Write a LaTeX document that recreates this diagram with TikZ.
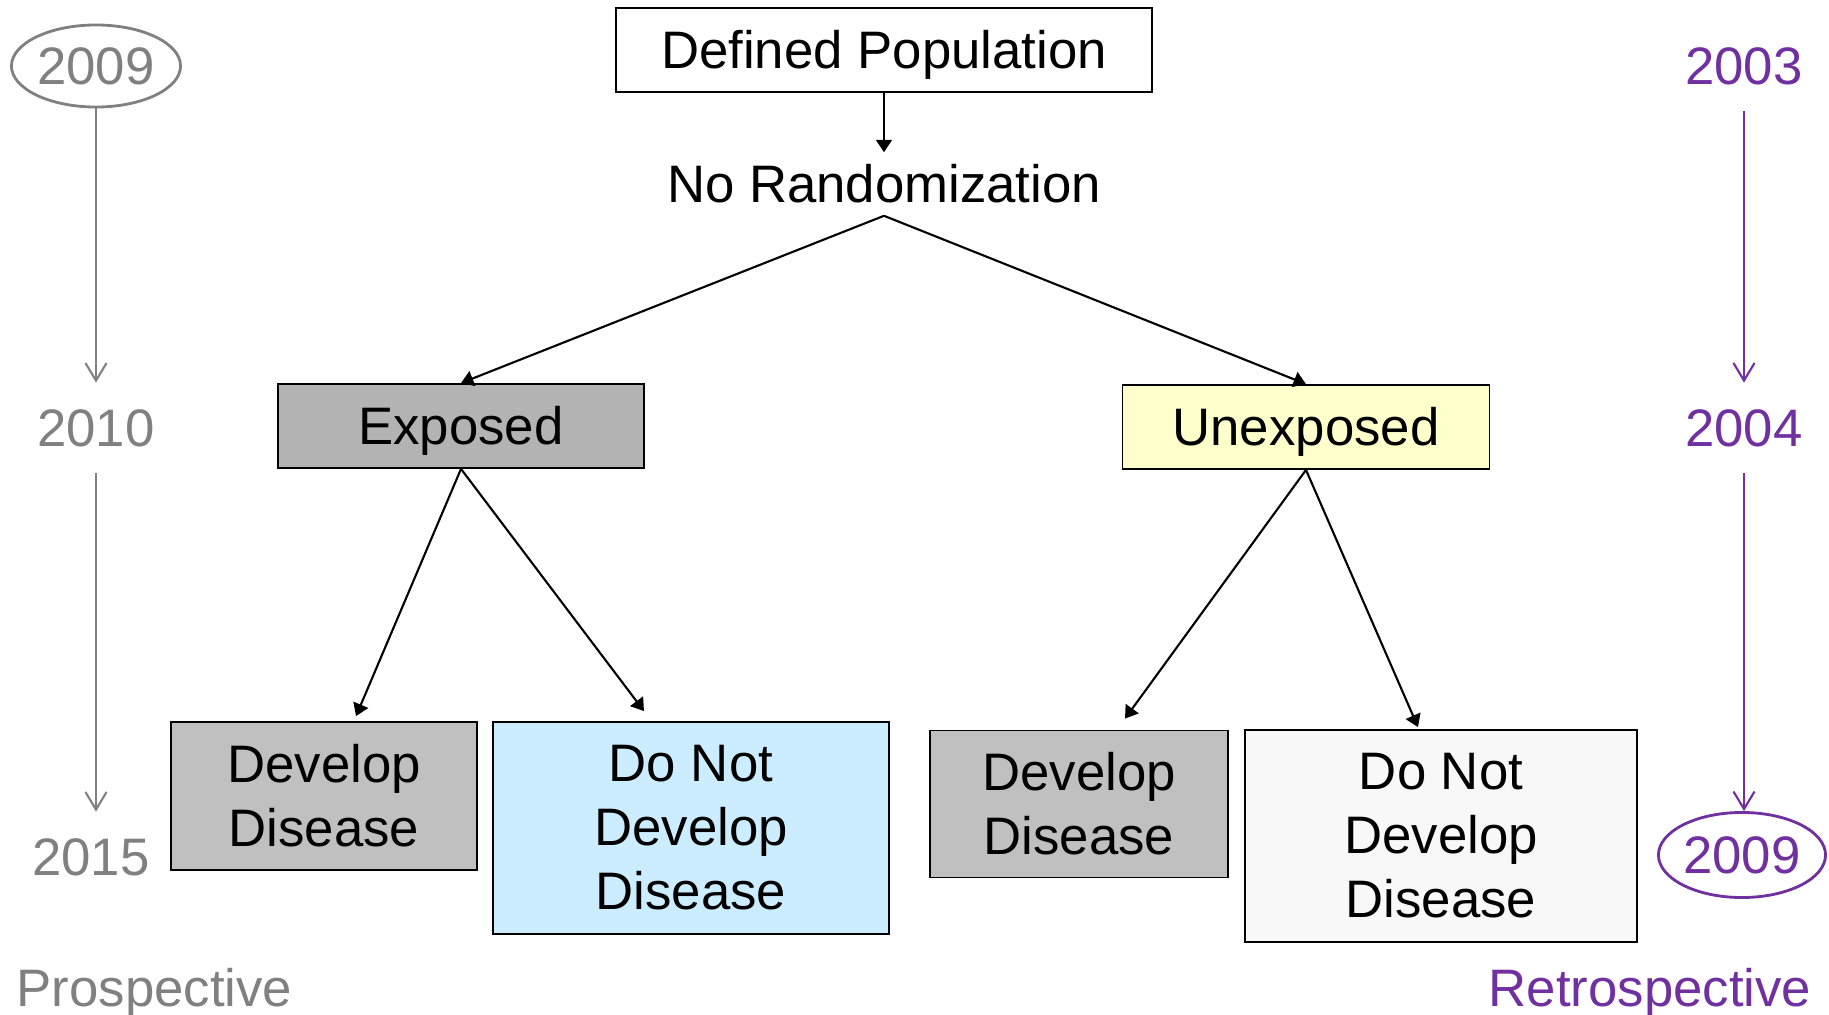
\documentclass[tikz,border=0pt]{standalone}
\usepackage{fontspec}
\setmainfont{Liberation Sans}
\usetikzlibrary{arrows.meta,shapes.geometric}

\definecolor{yeargray}{HTML}{808080}
\definecolor{retropurple}{HTML}{7030A0}
\definecolor{exposedgray}{HTML}{B3B3B3}
\definecolor{diseasegray}{HTML}{C0C0C0}
\definecolor{nodiseaseblue}{HTML}{CCECFF}
\definecolor{unexposedyellow}{HTML}{FFFFCC}
\definecolor{nodiseasewhite}{HTML}{F8F8F8}

\begin{document}
\begin{tikzpicture}[x=0.01cm,y=-0.01cm,
  every node/.style={font=\fontsize{15}{18.2}\selectfont},
  box/.style={draw,line width=0.5pt,align=center,inner sep=0pt},
  oneline/.style={text height=1.05em,text depth=0pt},
  flow/.style={-{Triangle[length=3.5pt,width=4.5pt]},line width=0.6pt},
  timeline/.style={-{Straight Barb[length=5pt,width=6pt]},line width=0.6pt},
  year/.style={inner sep=7.4pt},
  yearring/.style={ellipse,draw,line width=0.8pt,inner sep=0pt}]

% Fix the size of the picture
\useasboundingbox (0,0) rectangle (1829,1015);

% Define the sizes of the boxes
\def\boxheight{0.84cm}
\def\tallheight{2.12cm}

% Top of the tree
\node[box,oneline,minimum width=5.36cm,minimum height=\boxheight] (pop) at (884,50) {Defined Population};
\node (norand) at (884,184) {No Randomization};
\draw[flow] (pop.south) -- (norand.north);

% Exposure groups
\node[box,oneline,fill=exposedgray,minimum width=3.66cm,minimum height=\boxheight] (exposed) at (461,426) {Exposed};
\node[box,oneline,fill=unexposedyellow,minimum width=3.67cm,minimum height=\boxheight] (unexposed) at (1306,427) {Unexposed};
\draw[flow] (norand.south) -- (exposed.north);
\draw[flow] (norand.south) -- (unexposed.north);

% Outcomes
\node[box,fill=diseasegray,minimum width=3.06cm,minimum height=1.48cm] (disA) at (324,796) {Develop\\Disease};
\node[box,fill=nodiseaseblue,minimum width=3.96cm,minimum height=\tallheight] (nodisA) at (691,828) {Do Not\\Develop\\Disease};
\node[box,fill=diseasegray,minimum width=2.98cm,minimum height=1.47cm] (disB) at (1079,804) {Develop\\Disease};
\node[box,fill=nodiseasewhite,minimum width=3.92cm,minimum height=\tallheight] (nodisB) at (1441,836) {Do Not\\Develop\\Disease};
\draw[flow] (exposed.south) -- ([xshift=0.32cm,yshift=0.05cm]disA.north);
\draw[flow] (exposed.south) -- ([xshift=-0.47cm,yshift=0.1cm]nodisA.north);
\draw[flow] (unexposed.south) -- ([xshift=0.46cm,yshift=0.11cm]disB.north);
\draw[flow] (unexposed.south) -- ([xshift=-0.23cm,yshift=0.02cm]nodisB.north);

% Prospective timeline
\begin{scope}[yeargray]
  \node[yearring,text=yeargray,minimum width=1.69cm,minimum height=0.82cm] (pA) at (96,66) {2009};
  \node[year,text=yeargray] (pB) at (96,428) {2010};
  \node[year,text=yeargray] (pC) at (91,857) {2015};
  \draw[timeline] (pA.south) -- (pA.south |- pB.north);
  \draw[timeline] (pB.south) -- (pB.south |- pC.north);
  \node[text=yeargray,anchor=west,inner sep=0pt] (prosp) at (16,993) {Prospective};
\end{scope}

% Retrospective timeline
\begin{scope}[retropurple]
  \node[year,text=retropurple] (rA) at (1744,66) {2003};
  \node[year,text=retropurple] (rB) at (1744,428) {2004};
  \node[yearring,text=retropurple,minimum width=1.67cm,minimum height=0.85cm] (rC) at (1742,855) {2009};
  \draw[timeline] (rA.south) -- (rA.south |- rB.north);
  \draw[timeline] (rB.south) -- (rB.south |- rC.north);
  \node[text=retropurple,anchor=east,inner sep=0pt] (retro) at (1812,993) {Retrospective};
\end{scope}

\end{tikzpicture}
\end{document}
